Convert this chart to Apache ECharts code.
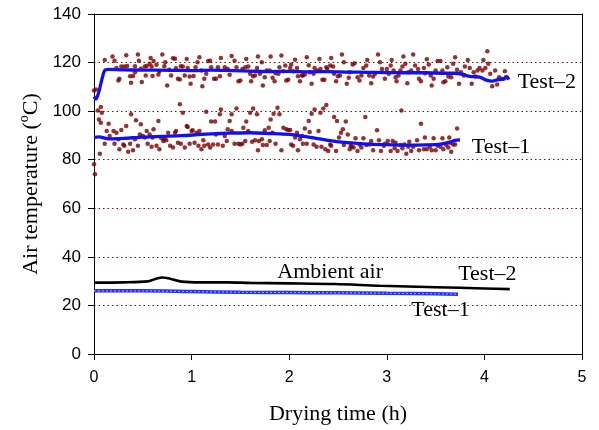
<!DOCTYPE html>
<html><head><meta charset="utf-8">
<script src="https://cdn.jsdelivr.net/npm/echarts@6/dist/echarts.min.js"></script>
<style>html,body{margin:0;padding:0;background:#fff}#c{width:599px;height:430px}</style>
</head><body><div id="c"></div>
<script>
// ---- data (time h, temperature °C) ----
const xTicks = [0, 1, 2, 3, 4, 5];
const yTicks = [0, 20, 40, 60, 80, 100, 120, 140];

const test2Scatter = [[0.00,108.5],[0.02,108.9],[0.11,121.1],[0.19,122.5],[0.21,120.8],[0.23,117.8],[0.25,112.6],[0.26,113.3],[0.28,118.4],[0.31,118.4],[0.33,123.0],[0.34,118.6],[0.37,114.4],[0.38,111.7],[0.40,114.5],[0.42,118.5],[0.42,116.0],[0.45,123.3],[0.46,120.8],[0.48,117.5],[0.49,112.0],[0.52,118.4],[0.53,114.7],[0.54,118.6],[0.57,119.5],[0.58,121.9],[0.59,118.4],[0.60,114.5],[0.61,120.6],[0.64,119.1],[0.66,115.1],[0.67,116.4],[0.70,123.3],[0.72,118.5],[0.73,120.1],[0.75,110.6],[0.77,117.0],[0.79,114.7],[0.81,121.8],[0.83,121.6],[0.84,117.7],[0.86,113.3],[0.88,113.0],[0.89,118.5],[0.91,118.4],[0.93,114.7],[0.95,121.5],[0.96,117.8],[0.98,114.3],[0.99,111.3],[1.02,114.5],[1.04,118.1],[1.06,120.1],[1.08,122.2],[1.10,116.7],[1.11,110.3],[1.13,113.3],[1.15,115.4],[1.17,120.6],[1.19,120.8],[1.20,118.1],[1.23,113.3],[1.25,113.3],[1.27,118.1],[1.29,114.4],[1.30,121.9],[1.34,118.1],[1.37,117.4],[1.39,115.0],[1.41,122.7],
[1.44,120.8],[1.46,118.1],[1.48,112.3],[1.50,112.6],[1.52,117.4],[1.55,118.1],[1.56,121.5],[1.58,118.4],[1.60,115.4],[1.61,112.3],[1.63,114.4],[1.65,114.7],[1.67,117.8],[1.68,122.5],[1.70,115.4],[1.72,120.1],[1.73,110.6],[1.75,114.0],[1.77,116.7],[1.80,116.7],[1.81,122.5],[1.83,113.7],[1.85,112.3],[1.86,115.6],[1.89,115.4],[1.90,118.1],[1.92,122.9],[1.94,116.4],[1.96,118.8],[1.97,112.6],[1.99,112.9],[2.01,117.8],[2.02,119.2],[2.04,116.4],[2.06,121.2],[2.08,117.8],[2.09,114.4],[2.11,112.3],[2.13,114.7],[2.14,114.7],[2.16,115.1],[2.18,122.2],[2.20,118.9],[2.21,116.0],[2.23,111.3],[2.25,115.4],[2.26,117.8],[2.29,116.7],[2.31,121.5],[2.32,117.4],[2.34,112.9],[2.36,112.9],[2.38,118.1],[2.39,117.4],[2.42,118.8],[2.43,121.9],[2.45,118.4],[2.46,115.4],[2.48,112.3],[2.50,114.4],[2.52,114.7],[2.54,123.3],[2.56,120.1],[2.59,111.3],[2.61,113.7],[2.62,116.0],[2.65,119.2],[2.67,119.7],[2.70,114.0],[2.72,112.6],[2.74,114.7],[2.76,117.8],[2.79,118.8],[2.80,121.1],[2.82,114.7],[2.84,111.5],[2.86,114.3],
[2.88,115.4],[2.91,123.3],[2.93,120.1],[2.95,117.4],[2.98,113.3],[3.00,117.4],[3.02,115.4],[3.04,118.8],[3.05,121.1],[3.07,116.7],[3.09,114.0],[3.10,112.3],[3.12,114.7],[3.14,116.7],[3.16,118.4],[3.17,122.5],[3.19,119.5],[3.21,111.5],[3.22,116.0],[3.25,116.7],[3.27,123.3],[3.29,118.8],[3.32,117.4],[3.33,113.3],[3.35,112.3],[3.38,117.8],[3.39,115.6],[3.41,121.4],[3.43,119.2],[3.45,114.7],[3.46,110.6],[3.48,113.3],[3.50,116.7],[3.52,120.6],[3.55,120.6],[3.57,116.7],[3.58,111.9],[3.60,112.3],[3.62,118.1],[3.63,114.3],[3.66,114.0],[3.68,119.5],[3.70,122.2],[3.72,117.0],[3.74,111.3],[3.76,116.0],[3.79,114.7],[3.80,118.4],[3.83,121.1],[3.85,117.8],[3.87,111.3],[3.89,116.0],[3.91,114.3],[3.93,116.7],[3.95,117.8],[3.98,116.7],[3.99,121.1],[4.01,117.8],[4.03,124.7],[4.04,119.5],[4.06,115.4],[4.08,110.2],[4.11,116.7],[4.13,111.0],[4.15,114.0],[4.18,113.3],[4.21,116.4],[4.22,114.0]];

const test1Scatter = [[0.00,78.1],[0.01,74.0],[0.04,100.3],[0.07,101.7],[0.08,99.3],[0.05,96.6],[0.07,95.2],[0.06,82.5],[0.11,86.6],[0.13,91.8],[0.15,94.8],[0.16,89.8],[0.20,91.8],[0.21,86.6],[0.23,91.1],[0.25,88.4],[0.26,84.3],[0.28,92.2],[0.30,86.3],[0.31,85.7],[0.33,93.9],[0.35,83.3],[0.37,86.6],[0.38,98.7],[0.40,83.9],[0.42,88.4],[0.43,96.2],[0.45,85.7],[0.47,90.4],[0.48,94.6],[0.50,89.8],[0.52,89.1],[0.54,91.8],[0.55,86.6],[0.57,90.4],[0.59,85.3],[0.60,89.1],[0.61,92.5],[0.64,85.7],[0.66,95.9],[0.67,84.3],[0.69,88.8],[0.71,87.7],[0.72,88.4],[0.74,88.0],[0.76,91.1],[0.78,85.7],[0.81,85.0],[0.83,91.1],[0.84,91.8],[0.86,87.0],[0.88,102.8],[0.89,86.6],[0.91,99.3],[0.93,85.0],[0.95,93.9],[0.96,93.5],[0.98,86.6],[1.00,91.8],[1.01,92.1],[1.03,87.0],[1.05,91.1],[1.07,85.7],[1.08,91.8],[1.10,84.3],[1.12,88.0],[1.13,85.7],[1.15,99.8],[1.17,86.3],[1.19,85.0],[1.20,95.7],[1.22,86.3],[1.24,95.7],[1.25,90.4],[1.27,86.3],[1.29,98.7],[1.30,100.7],[1.32,85.7],[1.34,89.8],[1.36,87.7],[1.37,92.5],[1.39,95.9],[1.41,98.7],
[1.41,91.8],[1.46,101.1],[1.44,86.6],[1.48,86.6],[1.50,86.3],[1.52,86.6],[1.53,93.2],[1.55,87.7],[1.56,95.7],[1.58,91.8],[1.60,99.3],[1.62,87.4],[1.63,101.1],[1.65,88.0],[1.67,98.7],[1.68,83.9],[1.69,87.7],[1.72,88.4],[1.73,86.1],[1.75,92.1],[1.77,86.1],[1.79,93.2],[1.80,87.7],[1.81,96.6],[1.83,91.1],[1.84,98.9],[1.86,86.6],[1.88,101.4],[1.90,98.7],[1.92,83.9],[1.94,93.2],[1.97,92.5],[1.99,92.2],[2.01,92.2],[2.02,86.3],[2.04,85.7],[2.06,89.1],[2.08,91.1],[2.09,83.9],[2.11,88.4],[2.13,89.8],[2.14,86.6],[2.16,92.9],[2.18,86.6],[2.20,95.9],[2.21,91.4],[2.23,98.9],[2.25,86.3],[2.26,100.7],[2.28,85.3],[2.30,91.8],[2.32,99.3],[2.33,85.3],[2.35,101.1],[2.37,84.3],[2.38,102.5],[2.40,83.6],[2.42,86.3],[2.43,85.7],[2.46,97.6],[2.48,83.6],[2.49,95.9],[2.51,89.1],[2.53,91.1],[2.55,92.5],[2.56,86.1],[2.58,95.7],[2.60,90.4],[2.62,84.3],[2.63,85.7],[2.64,85.3],[2.66,85.0],[2.68,88.8],[2.70,83.6],[2.72,86.3],[2.74,85.0],[2.76,88.8],[2.78,97.6],[2.79,86.1],[2.82,86.3],[2.84,87.7],[2.86,83.9],
[2.90,92.1],[2.92,88.0],[2.94,83.6],[2.97,85.7],[2.98,86.6],[3.01,87.7],[3.04,83.6],[3.06,87.7],[3.08,84.7],[3.09,87.0],[3.11,83.6],[3.14,86.1],[3.15,100.3],[3.16,84.7],[3.18,86.3],[3.20,82.5],[3.22,85.3],[3.23,87.4],[3.25,83.6],[3.27,85.3],[3.31,88.0],[3.33,83.9],[3.35,94.8],[3.38,84.3],[3.39,89.1],[3.41,84.3],[3.44,85.3],[3.46,83.9],[3.48,88.8],[3.50,83.9],[3.52,85.7],[3.55,85.3],[3.57,88.8],[3.58,84.3],[3.61,86.1],[3.63,85.0],[3.64,89.1],[3.65,87.0],[3.66,83.3],[3.68,86.3],[3.70,86.3],[3.72,92.9]];

const test2Trend = [[0,106],[0.02,105],[0.05,108],[0.08,113],[0.11,116.8],[0.15,117.2],[0.3,117],[0.5,116.9],[0.8,116.8],[1.0,116.7],[1.2,116.9],[1.42,116.7],[1.6,116.5],[1.8,116.3],[2.0,116.4],[2.2,116.2],[2.4,116.3],[2.6,116.1],[2.8,116.0],[3.0,115.9],[3.2,115.8],[3.4,115.8],[3.6,115.6],[3.7,115.6],[3.78,115.1],[3.85,114.3],[3.95,114.0],[4.02,112.8],[4.08,112.4],[4.14,113.0],[4.2,113.2],[4.23,114.2],[4.25,113.0]];
const test1Trend = [[0,89.2],[0.05,89.4],[0.15,88.6],[0.3,88.8],[0.5,89.3],[0.7,89.6],[0.9,89.9],[1.1,90.4],[1.3,90.8],[1.45,91.0],[1.6,91.1],[1.8,90.8],[2.0,90.4],[2.2,89.3],[2.4,88.0],[2.6,87.0],[2.8,86.4],[3.0,86.2],[3.2,86.0],[3.4,86.1],[3.55,86.4],[3.65,87.3],[3.7,88.0],[3.75,88.2]];
const ambient2 = [[0,29.4],[0.3,29.5],[0.55,29.9],[0.63,30.9],[0.7,31.5],[0.78,31.0],[0.9,29.8],[1.1,29.5],[1.37,29.5],[1.6,29.3],[2.0,29.1],[2.47,28.8],[2.93,28.1],[3.5,27.5],[4.0,27.0],[4.26,26.7]];
const ambient1 = [[0,26.0],[0.5,26.0],[1.0,25.7],[1.5,25.4],[2.0,25.3],[2.47,25.2],[3.0,25.0],[3.5,24.8],[3.73,24.6]];

const labelTexts = ['Test\u20132', 'Test\u20131', 'Ambient air'];

const serif = 'Liberation Serif';
const sans = 'Liberation Sans';
const red = '#7a0000';
const gridRed = '#8b0a0a';
const blue = '#1010f5';

function annot(coord, text) {
  return { coord: coord, symbol: 'circle', symbolSize: 0,
    label: { show: true, position: 'inside', formatter: text, color: '#000', fontFamily: serif, fontSize: 22 } };
}

const chart = echarts.init(document.getElementById('c'), null, { renderer: 'canvas' });
chart.setOption({
  animation: false,
  backgroundColor: '#fff',
  grid: { left: 94, right: 17, top: 14, bottom: 75 },
  xAxis: [{
    type: 'value', min: 0, max: 5, interval: 1,
    name: 'Drying time (h)', nameLocation: 'middle', nameGap: 49,
    nameTextStyle: { fontFamily: serif, fontSize: 22, color: '#000' },
    axisLine: { show: true, onZero: false, lineStyle: { color: '#000', width: 1 } },
    axisTick: { show: true, inside: false, length: 6, lineStyle: { color: '#000' } },
    axisLabel: { color: '#000', fontFamily: sans, fontSize: 16, margin: 16 },
    splitLine: { show: false }
  }, {
    type: 'value', min: 0, max: 5, position: 'top',
    axisLine: { show: true, onZero: false, lineStyle: { color: '#000', width: 1 } },
    axisTick: { show: false }, axisLabel: { show: false }, splitLine: { show: false }
  }],
  yAxis: [{
    type: 'value', min: 0, max: 140, interval: 20,
    name: '{a|Air temperature (}{s|o}{a|C)}', nameLocation: 'middle', nameGap: 50,
    nameTextStyle: { color: '#000', rich: {
      a: { fontFamily: serif, fontSize: 22, lineHeight: 26, color: '#000' },
      s: { fontFamily: serif, fontSize: 14, lineHeight: 14, verticalAlign: 'top', color: '#000' }
    } },
    axisLine: { show: true, onZero: false, lineStyle: { color: '#000', width: 1 } },
    axisTick: { show: true, inside: false, length: 6, lineStyle: { color: '#000' } },
    axisLabel: { color: '#000', fontFamily: sans, fontSize: 17, margin: 13 },
    splitLine: { show: true, lineStyle: { color: gridRed, width: 1.2, type: [1.5, 3] } }
  }, {
    type: 'value', min: 0, max: 140, position: 'right',
    axisLine: { show: true, onZero: false, lineStyle: { color: '#000', width: 1 } },
    axisTick: { show: false }, axisLabel: { show: false }, splitLine: { show: false }
  }],
  series: [
    { type: 'scatter', data: test2Scatter, symbol: 'circle', symbolSize: 4.5, itemStyle: { color: red } },
    { type: 'scatter', data: test1Scatter, symbol: 'circle', symbolSize: 4.5, itemStyle: { color: red } },
    { type: 'line', data: test2Trend, smooth: 0.3, showSymbol: false, lineStyle: { color: blue, width: 3.3 },
      markPoint: { data: [annot([4.64, 112.1], labelTexts[0])] } },
    { type: 'line', data: test1Trend, smooth: 0.3, showSymbol: false, lineStyle: { color: blue, width: 3.3 },
      markPoint: { data: [annot([4.17, 85.0], labelTexts[1])] } },
    { type: 'line', data: ambient2, smooth: 0.3, showSymbol: false, lineStyle: { color: '#000', width: 2.6 },
      markPoint: { data: [annot([2.42, 33.6], labelTexts[2]), annot([4.03, 32.8], labelTexts[0])] } },
    { type: 'line', data: ambient1, smooth: 0.3, showSymbol: false, lineStyle: { color: '#2030ff', width: 3.5 },
      markPoint: { data: [annot([3.55, 18.2], labelTexts[1])] } },
    { type: 'line', data: ambient1, smooth: 0.3, showSymbol: false, lineStyle: { color: '#a8b4ff', width: 1, type: [2, 2] } }
  ]
});
</script>
</body></html>
